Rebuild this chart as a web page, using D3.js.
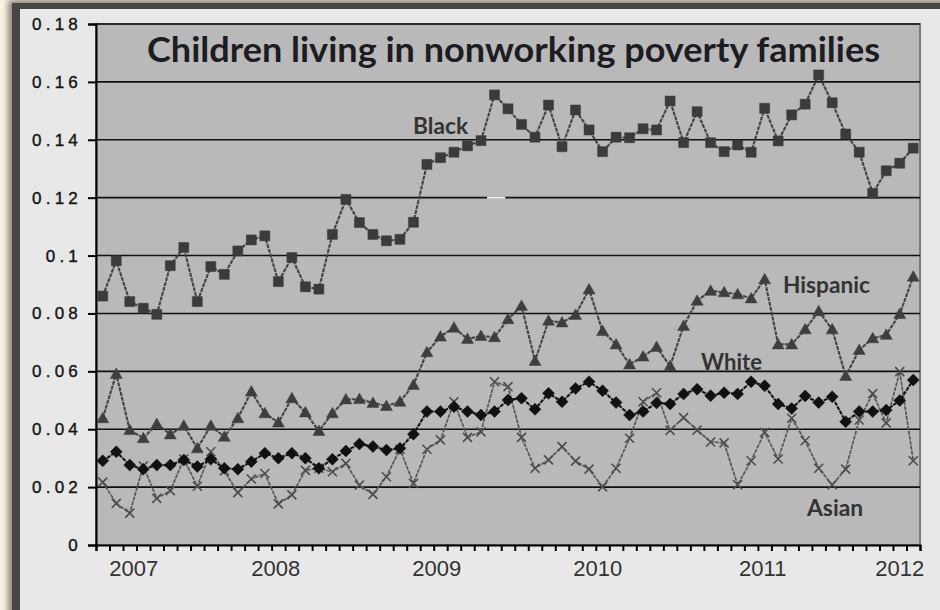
<!DOCTYPE html>
<html>
<head>
<meta charset="utf-8">
<script src="https://cdn.jsdelivr.net/npm/d3@7"></script>
<style>
  body { margin: 0; background: #fbf4e4; }
  svg { display: block; }
</style>
</head>
<body>
<svg id="vis" width="940" height="610"></svg>
<script>
// monthly points, 61 categories
const black = [0.0860, 0.0982, 0.0841, 0.0818, 0.0797, 0.0965, 0.1028, 0.0841, 0.0962, 0.0935,
  0.1016, 0.1054, 0.1068, 0.0910, 0.0993, 0.0892, 0.0884, 0.1073, 0.1194, 0.1114,
  0.1073, 0.1051, 0.1056, 0.1115, 0.1315, 0.1338, 0.1357, 0.1379, 0.1397, 0.1555,
  0.1507, 0.1453, 0.1409, 0.1520, 0.1376, 0.1503, 0.1434, 0.1359, 0.1409, 0.1407,
  0.1438, 0.1434, 0.1534, 0.1390, 0.1497, 0.1390, 0.1359, 0.1382, 0.1357, 0.1509,
  0.1396, 0.1486, 0.1523, 0.1624, 0.1528, 0.1420, 0.1357, 0.1215, 0.1293, 0.1319, 0.1371];
const hispanic = [0.0438, 0.0591, 0.0397, 0.0369, 0.0418, 0.0382, 0.0412, 0.0334, 0.0412, 0.0374,
  0.0438, 0.0530, 0.0455, 0.0423, 0.0507, 0.0458, 0.0394, 0.0455, 0.0503, 0.0504,
  0.0491, 0.0480, 0.0495, 0.0553, 0.0666, 0.0720, 0.0751, 0.0712, 0.0722, 0.0718,
  0.0780, 0.0826, 0.0636, 0.0775, 0.0769, 0.0795, 0.0883, 0.0739, 0.0693, 0.0624,
  0.0651, 0.0684, 0.0618, 0.0757, 0.0844, 0.0878, 0.0873, 0.0866, 0.0852, 0.0918,
  0.0693, 0.0693, 0.0745, 0.0808, 0.0745, 0.0584, 0.0674, 0.0714, 0.0726, 0.0798, 0.0927];
const white = [0.0291, 0.0322, 0.0276, 0.0262, 0.0276, 0.0276, 0.0294, 0.0271, 0.0296, 0.0265,
  0.0262, 0.0288, 0.0317, 0.0300, 0.0317, 0.0300, 0.0265, 0.0296, 0.0325, 0.0349,
  0.0340, 0.0328, 0.0334, 0.0383, 0.0461, 0.0461, 0.0478, 0.0461, 0.0449, 0.0461,
  0.0501, 0.0507, 0.0469, 0.0524, 0.0495, 0.0541, 0.0564, 0.0533, 0.0492, 0.0449,
  0.0461, 0.0491, 0.0487, 0.0522, 0.0538, 0.0516, 0.0526, 0.0522, 0.0564, 0.0550,
  0.0487, 0.0472, 0.0515, 0.0492, 0.0512, 0.0426, 0.0461, 0.0461, 0.0466, 0.0499, 0.0570];
const asian = [0.0217, 0.0144, 0.0110, 0.0273, 0.0161, 0.0188, 0.0297, 0.0203, 0.0322, 0.0256,
  0.0181, 0.0228, 0.0247, 0.0142, 0.0173, 0.0258, 0.0265, 0.0253, 0.0282, 0.0207,
  0.0175, 0.0236, 0.0331, 0.0213, 0.0331, 0.0363, 0.0495, 0.0372, 0.0391, 0.0564,
  0.0547, 0.0372, 0.0265, 0.0294, 0.0340, 0.0290, 0.0262, 0.0201, 0.0265, 0.0369,
  0.0495, 0.0526, 0.0396, 0.0440, 0.0397, 0.0356, 0.0353, 0.0208, 0.0291, 0.0389,
  0.0297, 0.0438, 0.0360, 0.0265, 0.0208, 0.0262, 0.0432, 0.0523, 0.0422, 0.0599, 0.0291];

const years = ['2007', '2008', '2009', '2010', '2011', '2012'];
const yearAt = [2.76, 13.27, 25.19, 37.1, 49.32, 59.46];   // category index under each label
const yTicks = [0, 0.02, 0.04, 0.06, 0.08, 0.1, 0.12, 0.14, 0.16, 0.18];

const seriesNames = ['Black', 'Hispanic', 'White', 'Asian'];
const labelAt = [23.47, 50.86, 44.79, 52.64];
const labelVal = [0.142, 0.0871, 0.0605, 0.0100];
const labelWidth = [55, 87, 61, 56];

const title = 'Children living in nonworking poverty families';

const svg = d3.select('#vis');
const W = 940, H = 610;
const plot = {left: 96, right: 920, top: 24, bottom: 545};
const n = black.length;

const x = d3.scaleLinear().domain([0, n]).range([plot.left, plot.right]);
const y = d3.scaleLinear().domain([0, 0.18]).range([plot.bottom, plot.top]);
const px = i => x(i + 0.5);

// frame
const defs = svg.append('defs');
const blur = defs.append('filter').attr('id', 'shadow')
  .attr('x', '-5%').attr('y', '-5%').attr('width', '110%').attr('height', '110%');
blur.append('feGaussianBlur').attr('stdDeviation', 3);

svg.append('rect').attr('width', W).attr('height', H).attr('fill', '#fbf4e4');
svg.append('rect')
  .attr('x', 8).attr('y', 0).attr('width', W).attr('height', H + 10)
  .attr('fill', '#8a8275').attr('filter', 'url(#shadow)');
svg.append('rect')
  .attr('x', 12).attr('y', 3).attr('width', W).attr('height', H)
  .attr('fill', '#474747');
svg.append('rect')
  .attr('x', 20).attr('y', 9).attr('width', W).attr('height', H)
  .attr('fill', '#e8e8e8');

// plot area
svg.append('rect')
  .attr('x', plot.left).attr('y', plot.top)
  .attr('width', plot.right - plot.left).attr('height', plot.bottom - plot.top)
  .attr('fill', '#b9b9b9')
  .attr('stroke', '#7a7a7a').attr('stroke-width', 2);

svg.append('g')
  .selectAll('line')
  .data(yTicks.slice(1))
  .join('line')
    .attr('x1', plot.left).attr('x2', plot.right)
    .attr('y1', d => y(d)).attr('y2', d => y(d))
    .attr('stroke', '#111').attr('stroke-width', 1.6);

// little white gap on the 0.12 line
svg.append('line')
  .attr('x1', x(28.95)).attr('x2', x(30.3))
  .attr('y1', y(0.12)).attr('y2', y(0.12))
  .attr('stroke', '#f4f4f4').attr('stroke-width', 2);

// axes
const yAxis = svg.append('g')
  .attr('transform', `translate(${plot.left},0)`)
  .call(d3.axisLeft(y).tickValues(yTicks).tickSize(8).tickPadding(8)
    .tickFormat(d => String(+d.toFixed(2))));
yAxis.select('.domain').attr('stroke', '#000').attr('stroke-width', 2);
yAxis.selectAll('.tick line').attr('stroke', '#000').attr('stroke-width', 2);
yAxis.selectAll('.tick text')
  .attr('font-family', 'Liberation Sans, Arial').attr('font-size', 17)
  .attr('letter-spacing', 4.2).attr('fill', '#151515')
  .attr('stroke', '#151515').attr('stroke-width', 0.4)
  .attr('x', -14);

const xAxis = svg.append('g')
  .attr('transform', `translate(0,${plot.bottom})`)
  .call(d3.axisBottom(x).tickValues(d3.range(0, n + 1)).tickSize(6).tickFormat(''));
xAxis.select('.domain').attr('stroke', '#000').attr('stroke-width', 2);
xAxis.selectAll('.tick line').attr('stroke', '#000').attr('stroke-width', 2);

const yearAxis = svg.append('g')
  .attr('transform', `translate(0,${plot.bottom})`)
  .call(d3.axisBottom(x).tickValues(yearAt).tickSize(0).tickPadding(15)
    .tickFormat((d, i) => years[i]));
yearAxis.select('.domain').remove();
yearAxis.selectAll('.tick text')
  .attr('font-family', 'Liberation Sans, Arial').attr('font-size', 22)
  .attr('fill', '#333');

// series
const line = d3.line().x((d, i) => px(i)).y(d => y(d));

const series = [
  {values: black, line: '#444', width: 2.1, mark: 'square', fill: '#3b3b3b'},
  {values: hispanic, line: '#444', width: 2.1, mark: 'triangle', fill: '#3e3e3e'},
  {values: asian, line: '#575757', width: 1.7, mark: 'x', fill: '#4d4d4d'},
  {values: white, line: '#151515', width: 2.1, mark: 'diamond', fill: '#111'}
];

const marks = {
  square: 'M-5,-5H5V5H-5Z',
  triangle: 'M0,-6L6,4.5L-6,4.5Z',
  diamond: 'M0,-6L6,0L0,6L-6,0Z',
  x: 'M-4.5,-4.5L4.5,4.5M-4.5,4.5L4.5,-4.5'
};

series.forEach(s => {
  const g = svg.append('g');
  g.append('path')
    .datum(s.values)
    .attr('d', line)
    .attr('fill', 'none')
    .attr('stroke', s.line)
    .attr('stroke-width', s.width)
    .attr('stroke-dasharray', '4 1');
  g.selectAll('path.mark')
    .data(s.values)
    .join('path')
      .classed('mark', true)
      .attr('transform', (d, i) => `translate(${px(i)},${y(d)})`)
      .attr('d', marks[s.mark])
      .attr('fill', s.mark === 'x' ? 'none' : s.fill)
      .attr('stroke', s.fill)
      .attr('stroke-width', s.mark === 'x' ? 1.6 : 0.5);
});

// labels
svg.append('g')
  .selectAll('text')
  .data(seriesNames)
  .join('text')
    .attr('x', (d, i) => x(labelAt[i]))
    .attr('y', (d, i) => y(labelVal[i]))
    .attr('textLength', (d, i) => labelWidth[i])
    .attr('lengthAdjust', 'spacingAndGlyphs')
    .attr('font-family', 'Lato').attr('font-weight', 700).attr('font-size', 22)
    .attr('fill', '#333')
    .text(d => d);

svg.append('text')
  .attr('x', 147).attr('y', 62)
  .attr('textLength', 733).attr('lengthAdjust', 'spacingAndGlyphs')
  .attr('font-family', 'Lato').attr('font-weight', 700).attr('font-size', 34)
  .attr('fill', '#1c1c22')
  .text(title);
</script>
</body>
</html>
